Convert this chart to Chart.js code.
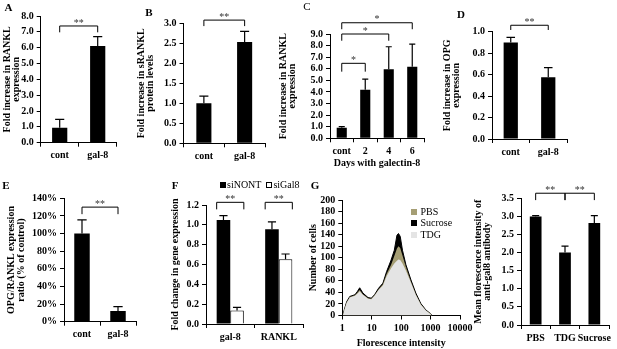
<!DOCTYPE html>
<html><head><meta charset="utf-8">
<script src="https://cdn.jsdelivr.net/npm/chart.js@4.4.1/dist/chart.umd.min.js"></script>
<style>
html,body{margin:0;padding:0;background:#fff;}
#wrap{position:relative;width:617px;height:349px;overflow:hidden;background:#fff;}
#wrap canvas{position:absolute;left:0;top:0;}
.letter{position:absolute;font-family:'Liberation Serif',serif;font-weight:bold;font-size:11px;line-height:1;color:#000;transform:translate(-50%,-50%);}
.leg{position:absolute;font-family:'Liberation Serif',serif;font-size:10px;line-height:1;color:#000;white-space:nowrap;}
.sw{display:inline-block;width:6px;height:6px;box-sizing:border-box;margin-right:1px;vertical-align:0px;}
</style></head><body>
<div id="wrap">
<canvas id="cA" width="617" height="349"></canvas>
<canvas id="cB" width="617" height="349"></canvas>
<canvas id="cC" width="617" height="349"></canvas>
<canvas id="cD" width="617" height="349"></canvas>
<canvas id="cE" width="617" height="349"></canvas>
<canvas id="cF" width="617" height="349"></canvas>
<canvas id="cG" width="617" height="349"></canvas>
<canvas id="cH" width="617" height="349"></canvas>
<div class="letter" style="left:8.5px;top:7px">A</div>
<div class="letter" style="left:149px;top:11.5px">B</div>
<div class="letter" style="left:307px;top:6px;font-weight:normal">C</div>
<div class="letter" style="left:461px;top:13.5px">D</div>
<div class="letter" style="left:6px;top:185px">E</div>
<div class="letter" style="left:175px;top:185px">F</div>
<div class="letter" style="left:315px;top:184.5px">G</div>
<div class="leg" id="legF" style="left:220px;top:180px"></div>
<div class="leg" id="legG" style="left:411px;top:207px"></div>
</div>
<script>
// ---------------- data ----------------
const twoGroups = ['cont', 'gal-8'];
const aValues = [0.95, 6.1];
const aErrors = [0.52, 0.6];
const bValues = [1.0, 2.53];
const bErrors = [0.18, 0.27];
const cCategories = ['cont', '2', '4', '6'];
const cValues = [0.9, 4.2, 5.95, 6.18];
const cErrors = [0.1, 0.91, 1.95, 1.95];
const dValues = [0.9, 0.575];
const dErrors = [0.048, 0.09];
const eValues = [100, 12];
const eErrors = [15.5, 5];
const fCategories = ['gal-8', 'RANKL'];
const fSeries = ['siNONT', 'siGal8'];
const fNont = [1.05, 0.955];
const fNontErr = [0.042, 0.075];
const fGal8 = [0.135, 0.652];
const fGal8Err = [0.033, 0.054];
const gSeries = ['PBS', 'Sucrose', 'TDG'];
const gIntensity = [1.05, 1.17, 1.41, 1.8, 2.7, 3.3, 3.9, 5.0, 7.5, 9.7, 12.5, 17, 24, 32, 45.5, 58.5, 72, 81, 93, 111, 145, 214, 314, 462, 680, 1000, 1130];
const gPBS     = [0, 10, 23, 32, 35, 40, 44, 37, 30, 29, 35, 45, 54, 72, 88, 103, 116, 120, 117, 104, 84, 59, 37, 20, 9, 3, 0];
const gSucrose = [0, 10, 24, 33, 36, 42, 48, 39, 31, 30, 36, 47, 56, 76, 96, 113, 139, 142, 137, 113, 88, 62, 39, 21, 10, 3, 0];
const gTDG     = [0, 9, 22, 31, 34, 38, 42, 36, 29, 28, 34, 44, 52, 68, 82, 90, 95, 97, 96, 90, 78, 57, 36, 19, 9, 2, 0];
const gTickLabels = [1, 10, 100, 1000, 10000];
const hCategories = ['PBS', 'TDG', 'Sucrose'];
const hValues = [3.0, 2.0, 2.82];
const hErrors = [0.02, 0.18, 0.2];
// significance brackets: [dataset, index] ends, top value, leg value, mark
const aBrackets = [{from:[0,0], to:[0,1], top:7.37, leg:6.97, mark:'**'}];
const bBrackets = [{from:[0,0], to:[0,1], top:3.08, leg:2.93, mark:'**'}];
const cBrackets = [
  {from:[0,0], to:[0,1], top:6.47, leg:5.75, mark:'*'},
  {from:[0,0], to:[0,2], top:9.0, leg:8.42, mark:'*'},
  {from:[0,0], to:[0,3], top:9.97, leg:9.41, mark:'*'}
];
const dBrackets = [{from:[0,0], to:[0,1], top:1.06, leg:1.016, mark:'**'}];
const eBrackets = [{from:[0,0], to:[0,1], top:130, leg:122, mark:'**'}];
const fBrackets = [
  {from:[0,0], to:[1,0], top:1.227, leg:1.156, mark:'**'},
  {from:[0,1], to:[1,1], top:1.227, leg:1.156, mark:'**'}
];
const hBrackets = [
  {from:[0,0], to:[0,1], top:3.64, leg:3.45, mark:'**'},
  {from:[0,1], to:[0,2], top:3.64, leg:3.45, mark:'**'}
];

// ---------------- drawing ----------------
const FONT = "'Liberation Serif','Times New Roman',serif";
const tickFont = {family: FONT, weight: 'bold', size: 10};
const titleFont = {family: FONT, weight: 'bold', size: 10, lineHeight: 0.95};
const W = 617, H = 349;
const annotations = {};

const annotPlugin = {
  id: 'annot',
  afterDatasetsDraw(chart) {
    const o = annotations[chart.canvas.id];
    if (!o) return;
    const ctx = chart.ctx, y = chart.scales.y;
    ctx.save();
    ctx.strokeStyle = '#000';
    (o.errors || []).forEach((errs, ds) => {
      if (!errs) return;
      const meta = chart.getDatasetMeta(ds);
      meta.data.forEach((bar, i) => {
        const v = chart.data.datasets[ds].data[i];
        const yt = y.getPixelForValue(v + errs[i]);
        const cap = Math.max(3, bar.width * 0.3);
        ctx.lineWidth = 1.2;
        ctx.beginPath();
        ctx.moveTo(bar.x, bar.y); ctx.lineTo(bar.x, yt);
        ctx.moveTo(bar.x - cap, yt); ctx.lineTo(bar.x + cap, yt);
        ctx.stroke();
      });
    });
    (o.brackets || []).forEach(b => {
      const b1 = chart.getDatasetMeta(b.from[0]).data[b.from[1]];
      const b2 = chart.getDatasetMeta(b.to[0]).data[b.to[1]];
      let x1 = b1.x, x2 = b2.x;
      if (o.edge) { x1 -= b1.width / 2; x2 += b2.width / 2; }
      const yt = y.getPixelForValue(b.top), yl = y.getPixelForValue(b.leg);
      ctx.lineWidth = 1;
      ctx.beginPath();
      ctx.moveTo(x1, yl); ctx.lineTo(x1, yt); ctx.lineTo(x2, yt); ctx.lineTo(x2, yl);
      ctx.stroke();
      ctx.fillStyle = '#333';
      ctx.font = '10px ' + FONT;
      ctx.textAlign = 'center';
      ctx.textBaseline = 'bottom';
      ctx.fillText(b.mark, (x1 + x2) / 2, yt + 2);
    });
    ctx.restore();
  }
};

function yScale(max, step, title, yw, fmt) {
  return {
    min: 0, max: max,
    ticks: {stepSize: step, color: '#000', font: tickFont, padding: 3, autoSkip: false, callback: fmt},
    grid: {drawOnChartArea: false, drawTicks: true, tickLength: 4, color: '#000', lineWidth: 1},
    border: {display: true, color: '#000', width: 1},
    title: {display: true, text: title, color: '#000', font: titleFont, padding: 0},
    afterFit(s) { s.width = yw; }
  };
}
function xCat(xh, title) {
  return {
    type: 'category', offset: true,
    ticks: {color: '#000', font: tickFont, padding: 3, autoSkip: false, maxRotation: 0},
    grid: {offset: true, drawOnChartArea: false, drawTicks: true, tickLength: 4, color: '#000'},
    border: {display: true, color: '#000', width: 1},
    title: title ? {display: true, text: title, color: '#000', font: titleFont, padding: 0} : {display: false},
    afterFit(s) { s.height = xh; }
  };
}
function base(L, R, T, B, yw, xh) {
  return {
    responsive: false, animation: false, devicePixelRatio: 1,
    layout: {padding: {left: L - yw, right: W - R, top: T, bottom: H - B - xh}},
    plugins: {legend: {display: false}, tooltip: {enabled: false}}
  };
}
const fix1 = v => Number(v).toFixed(1);

function simpleBar(id, labels, values, errors, brackets, box, yopt, barPct, xTitle) {
  annotations[id] = {errors: [errors], brackets: brackets};
  const opts = base(box.L, box.R, box.T, box.B, box.yw, box.xh);
  opts.scales = {x: xCat(box.xh, xTitle), y: yScale(yopt.max, yopt.step, yopt.title, box.yw, yopt.fmt)};
  return new Chart(document.getElementById(id), {
    type: 'bar',
    data: {labels: labels, datasets: [{data: values, backgroundColor: '#000', borderWidth: 0,
      barPercentage: barPct, categoryPercentage: 1}]},
    options: opts,
    plugins: [annotPlugin]
  });
}

simpleBar('cA', twoGroups, aValues, aErrors, aBrackets,
  {L: 40.7, R: 116.7, T: 16, B: 142.7, yw: 38.5, xh: 20},
  {max: 8, step: 1, title: ['Fold increase in RANKL', 'expression'], fmt: fix1}, 0.4);
simpleBar('cB', twoGroups, bValues, bErrors, bBrackets,
  {L: 183.5, R: 265, T: 23.3, B: 143.3, yw: 47.3, xh: 20},
  {max: 3, step: 0.5, title: ['Fold increase in sRANKL', 'protein levels'], fmt: fix1}, 0.37);
simpleBar('cC', cCategories, cValues, cErrors, cBrackets,
  {L: 330, R: 424, T: 34, B: 138.3, yw: 51.5, xh: 30},
  {max: 9, step: 1, title: ['Fold increase in RANKL', 'expression'], fmt: fix1}, 0.43, 'Days with galectin-8');
simpleBar('cD', twoGroups, dValues, dErrors, dBrackets,
  {L: 492, R: 567, T: 31.7, B: 139, yw: 49.8, xh: 20},
  {max: 1, step: 0.2, title: ['Fold increase in OPG', 'expression'], fmt: fix1}, 0.38);
simpleBar('cE', twoGroups, eValues, eErrors, eBrackets,
  {L: 64, R: 136, T: 198.3, B: 321.7, yw: 57, xh: 20},
  {max: 140, step: 20, title: ['OPG/RANKL expression', 'ratio (% of control)'], fmt: v => Math.round(v) + '%'}, 0.43);
simpleBar('cH', hCategories, hValues, hErrors, hBrackets,
  {L: 521, R: 609, T: 198.3, B: 325, yw: 47.5, xh: 20},
  {max: 3.5, step: 0.5, title: ['Mean florescence intensity of', 'anti-gal8 antibody'], fmt: fix1}, 0.4);

// Panel F: grouped bars
(function () {
  const id = 'cF', box = {L: 206, R: 303, T: 205, B: 324, yw: 35.8, xh: 20};
  annotations[id] = {errors: [fNontErr, fGal8Err], brackets: fBrackets, edge: true};
  const opts = base(box.L, box.R, box.T, box.B, box.yw, box.xh);
  opts.scales = {x: xCat(box.xh), y: yScale(1.2, 0.2, 'Fold change in gene expression', box.yw, fix1)};
  new Chart(document.getElementById(id), {
    type: 'bar',
    data: {labels: fCategories, datasets: [
      {label: fSeries[0], data: fNont, backgroundColor: '#000', borderWidth: 0, barPercentage: 1, categoryPercentage: 0.56},
      {label: fSeries[1], data: fGal8, backgroundColor: '#fff', borderColor: '#000', borderWidth: 1, barPercentage: 1, categoryPercentage: 0.56}
    ]},
    options: opts,
    plugins: [annotPlugin]
  });
  document.getElementById('legF').innerHTML =
    '<span class="sw" style="background:#000"></span>' + fSeries[0] +
    '&nbsp;&nbsp;<span class="sw" style="border:1px solid #000;background:#fff"></span>' + fSeries[1];
})();

// Panel G: flow cytometry histogram
(function () {
  const id = 'cG', box = {L: 342.3, R: 460, T: 200, B: 315.5, yw: 34, xh: 32.5};
  const colors = {PBS: '#a59e74', Sucrose: '#000000', TDG: '#e4e4e4'};
  const series = {PBS: gPBS, Sucrose: gSucrose, TDG: gTDG};
  const drawOrder = ['TDG', 'PBS', 'Sucrose']; // first is drawn on top
  const opts = base(box.L, box.R, box.T, box.B, box.yw, box.xh);
  opts.scales = {
    x: {type: 'logarithmic', min: 1, max: 10000,
      afterBuildTicks(s) { s.ticks = gTickLabels.map(v => ({value: v})); },
      ticks: {color: '#000', font: tickFont, padding: 3, autoSkip: false, maxRotation: 0, callback: v => String(v)},
      grid: {drawOnChartArea: false, drawTicks: true, tickLength: 4, color: '#000'},
      border: {display: true, color: '#000', width: 1},
      title: {display: true, text: 'Florescence intensity', color: '#000', font: titleFont, padding: 0},
      afterFit(s) { s.height = box.xh; }},
    y: yScale(200, 20, 'Number of cells', box.yw, v => String(Math.round(v)))
  };
  new Chart(document.getElementById(id), {
    type: 'line',
    data: {datasets: drawOrder.map(name => ({
      label: name,
      data: gIntensity.map((x, i) => ({x: x, y: series[name][i]})),
      backgroundColor: colors[name], borderColor: colors[name], borderWidth: name === 'Sucrose' ? 1 : 0,
      fill: 'origin', pointRadius: 0, tension: 0
    }))},
    options: opts
  });
  document.getElementById('legG').innerHTML = gSeries.map(n =>
    '<div style="height:11.3px"><span class="sw" style="background:' + colors[n] + '"></span>&nbsp;' + n + '</div>').join('');
})();
</script>
</body></html>
